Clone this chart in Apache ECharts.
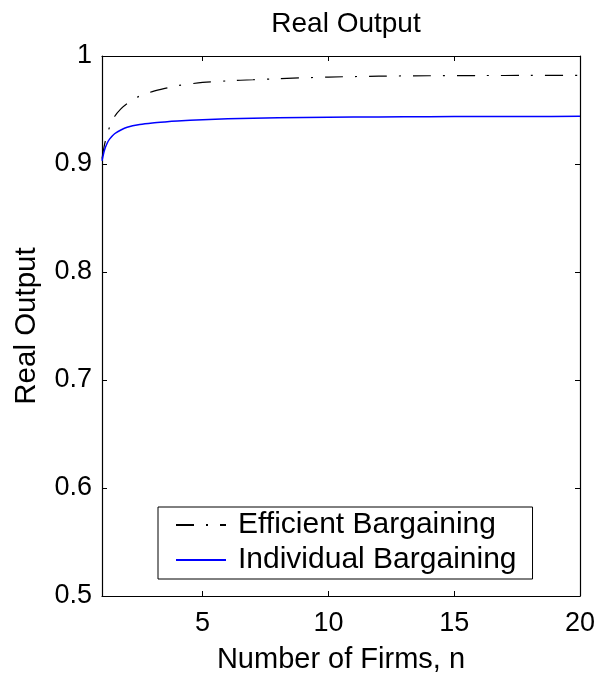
<!DOCTYPE html>
<html>
<head>
<meta charset="utf-8">
<script src="https://cdn.jsdelivr.net/npm/echarts@6/dist/echarts.min.js"></script>
<style>
html,body{margin:0;padding:0;background:#fff;}
#chart{width:610px;height:674px;}
</style>
</head>
<body>
<div id="chart"></div>
<script>
var firms = [1, 1.1, 1.2, 1.3, 1.5, 1.75, 2, 2.5, 3, 3.5, 4, 5, 6, 7, 8, 10, 12, 14, 16, 18, 20];
var efficient = [0.905, 0.918, 0.927, 0.934, 0.944, 0.951, 0.956, 0.963, 0.967, 0.970, 0.9725, 0.9755, 0.977, 0.978, 0.979, 0.9805, 0.9813, 0.9817, 0.9819, 0.982, 0.982];
var individual = [0.903, 0.913, 0.919, 0.923, 0.928, 0.9315, 0.934, 0.9365, 0.938, 0.939, 0.9398, 0.941, 0.9418, 0.9424, 0.9428, 0.9433, 0.9436, 0.9438, 0.944, 0.944, 0.9441];
var xTicks = [5, 10, 15, 20];
var yTicks = [0.5, 0.6, 0.7, 0.8, 0.9, 1];
var seriesNames = ['Efficient Bargaining', 'Individual Bargaining'];

function pairs(xs, ys) { return xs.map(function (x, i) { return [x, ys[i]]; }); }

var FONT = 'Liberation Sans, Arial, Helvetica, sans-serif';
var chart = echarts.init(document.getElementById('chart'), null, {renderer: 'canvas'});
chart.setOption({
  animation: false,
  backgroundColor: '#fff',
  title: {
    text: 'Real Output', left: 341, textAlign: 'center', top: 5,
    textStyle: {fontFamily: FONT, fontSize: 28, fontWeight: 'normal', color: '#000'}
  },
  grid: {left: 102, right: 30, top: 56, bottom: 78, containLabel: false, outerBoundsMode: 'none'},
  legend: {
    orient: 'vertical', left: 158, top: 507,
    padding: [3, 16, 4, 17],
    borderColor: '#000', borderWidth: 1, backgroundColor: '#fff',
    itemWidth: 50, itemHeight: 14, itemGap: 5,
    itemStyle: {opacity: 0},
    textStyle: {fontFamily: FONT, fontSize: 30, color: '#000', padding: [0, 0, 0, 7], lineHeight: 30},
    data: seriesNames
  },
  xAxis: [{
    type: 'value', min: 1, max: 20,
    name: 'Number of Firms, n', nameLocation: 'middle', nameGap: 49,
    nameTextStyle: {fontFamily: FONT, fontSize: 29, color: '#000'},
    axisLine: {lineStyle: {color: '#000', width: 1.2}},
    axisTick: {inside: true, length: 5, customValues: xTicks, lineStyle: {color: '#000'}},
    axisLabel: {customValues: xTicks, fontFamily: FONT, fontSize: 27, color: '#000', margin: 14},
    splitLine: {show: false}
  }, {
    type: 'value', min: 1, max: 20, position: 'top',
    axisLine: {show: true, lineStyle: {color: '#000', width: 1.2}},
    axisTick: {inside: true, length: 5, customValues: xTicks, lineStyle: {color: '#000'}},
    axisLabel: {show: false}, splitLine: {show: false}
  }],
  yAxis: [{
    type: 'value', min: 0.5, max: 1, interval: 0.1,
    name: 'Real Output', nameLocation: 'middle', nameGap: 60, nameRotate: 90,
    nameTextStyle: {fontFamily: FONT, fontSize: 29.5, color: '#000'},
    axisLine: {show: true, lineStyle: {color: '#000', width: 1.2}},
    axisTick: {inside: true, length: 5, lineStyle: {color: '#000'}},
    axisLabel: {fontFamily: FONT, fontSize: 27, color: '#000', margin: 10,
      formatter: function (v) { return String(Math.round(v * 10) / 10); }},
    splitLine: {show: false}
  }, {
    type: 'value', min: 0.5, max: 1, interval: 0.1, position: 'right',
    axisLine: {show: true, lineStyle: {color: '#000', width: 1.2}},
    axisTick: {inside: true, length: 5, lineStyle: {color: '#000'}},
    axisLabel: {show: false}, splitLine: {show: false}
  }],
  series: [{
    name: seriesNames[0], type: 'line', smooth: 0.3, showSymbol: false, symbol: 'none',
    data: pairs(firms, efficient),
    lineStyle: {color: '#000', width: 1.2, type: [18, 12, 2, 12]},
    itemStyle: {color: '#000'}
  }, {
    name: seriesNames[1], type: 'line', smooth: 0.3, showSymbol: false, symbol: 'none',
    data: pairs(firms, individual),
    lineStyle: {color: '#0000ff', width: 1.5},
    itemStyle: {color: '#0000ff'}
  }]
});
</script>
</body>
</html>
